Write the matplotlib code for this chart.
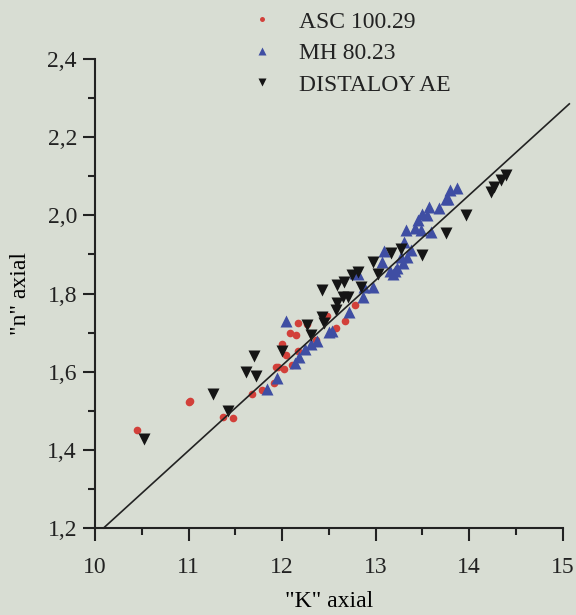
import numpy as np
import matplotlib
matplotlib.use("Agg")
import matplotlib.pyplot as plt
from matplotlib.ticker import MultipleLocator, FuncFormatter

# ---------------- DATA ---------------- #
asc_k = [10.45, 11.00, 11.02, 11.37, 11.47, 11.68, 11.79, 11.91, 11.93, 11.96,
         12.00, 12.02, 12.04, 12.08, 12.11, 12.15, 12.17, 12.17, 12.27, 12.36,
         12.48, 12.58, 12.67, 12.78]
asc_n = [1.452, 1.522, 1.524, 1.485, 1.482, 1.542, 1.553, 1.572, 1.612, 1.613,
         1.672, 1.608, 1.643, 1.700, 1.618, 1.694, 1.725, 1.653, 1.722, 1.680,
         1.742, 1.713, 1.730, 1.770]

mh_k = [11.84, 11.95, 12.04, 12.14, 12.18, 12.24, 12.31, 12.37, 12.50, 12.53,
        12.72, 12.78, 12.81, 12.86, 12.88, 12.97, 13.07, 13.09, 13.15, 13.18,
        13.21, 13.23, 13.27, 13.29, 13.30, 13.32, 13.34, 13.38, 13.42, 13.45,
        13.48, 13.50, 13.55, 13.57, 13.59, 13.68, 13.75, 13.77, 13.79, 13.87]
mh_n = [1.556, 1.583, 1.730, 1.623, 1.638, 1.658, 1.672, 1.678, 1.702, 1.703,
        1.753, 1.853, 1.851, 1.790, 1.817, 1.817, 1.881, 1.909, 1.858, 1.851,
        1.858, 1.864, 1.893, 1.877, 1.932, 1.962, 1.894, 1.911, 1.968, 1.988,
        1.962, 2.003, 2.000, 2.022, 1.958, 2.018, 2.043, 2.043, 2.064, 2.069]

dist_k = [10.52, 11.26, 11.42, 11.61, 11.70, 11.72, 12.00, 12.27, 12.31, 12.43,
          12.43, 12.45, 12.58, 12.59, 12.59, 12.65, 12.66, 12.70, 12.75, 12.81,
          12.84, 12.97, 13.02, 13.16, 13.27, 13.50, 13.75, 13.97, 14.23, 14.27,
          14.34, 14.39]
dist_n = [1.427, 1.543, 1.500, 1.600, 1.640, 1.590, 1.653, 1.719, 1.694, 1.809,
          1.740, 1.724, 1.758, 1.821, 1.775, 1.790, 1.830, 1.790, 1.847, 1.855,
          1.817, 1.881, 1.851, 1.903, 1.915, 1.898, 1.954, 2.000, 2.060, 2.073,
          2.090, 2.103]

# straight fit line n = a*K + b
fit_slope = 0.218
fit_intercept = -1.0
fit_k_range = [10.092, 15.07]

labels = ["ASC 100.29", "MH 80.23", "DISTALOY AE"]

# ---------------- STYLE ---------------- #
BG = "#d8ddd3"
INK = "#222222"
FS = 17
plt.rcParams["font.family"] = ["Liberation Serif", "DejaVu Serif"]
plt.rcParams["text.color"] = INK

fig = plt.figure(figsize=(5.76, 6.15), dpi=100, facecolor=BG)
ax = fig.add_axes([0.165, 0.1415, 0.812, 0.7625], facecolor=BG)

# ---------------- PLOT ---------------- #
fit_k = np.array(fit_k_range)
ax.plot(fit_k, fit_slope * fit_k + fit_intercept, color=INK, lw=1.2,
        clip_on=False, zorder=3)

ax.plot(asc_k, asc_n, "o", color="#d2403a", ms=5.5, mec="none",
        label=labels[0], zorder=2)
ax.plot(mh_k, mh_n, "^", color="#3f4ea3", ms=8, mec="none",
        label=labels[1], zorder=2)
ax.plot(dist_k, dist_n, "v", color="#151515", ms=8, mec="none",
        label=labels[2], zorder=2)

ax.set_xlim(10, 15)
ax.set_ylim(1.2, 2.4)
ax.xaxis.set_major_locator(MultipleLocator(1))
ax.xaxis.set_minor_locator(MultipleLocator(0.5))
ax.yaxis.set_major_locator(MultipleLocator(0.2))
ax.yaxis.set_minor_locator(MultipleLocator(0.1))
ax.yaxis.set_major_formatter(FuncFormatter(lambda v, p: f"{v:.1f}".replace(".", ",")))
ax.xaxis.set_major_formatter(FuncFormatter(lambda v, p: f"{v:.0f}"))

for side in ["top", "right"]:
    ax.spines[side].set_visible(False)
for side in ["left", "bottom"]:
    ax.spines[side].set_linewidth(1.5)
    ax.spines[side].set_color(INK)

ax.tick_params(which="major", direction="out", length=9, width=1.5,
               colors=INK, labelsize=FS, pad=4)
ax.tick_params(which="minor", direction="out", length=5, width=1.5, colors=INK)
ax.tick_params(axis="x", which="major", pad=12)

ax.set_xlabel('"K" axial', fontsize=FS, labelpad=9)
ax.set_ylabel('"n" axial', fontsize=FS, labelpad=12)

leg = ax.legend(loc="upper left", bbox_to_anchor=(0.41, 1.005),
                bbox_transform=fig.transFigure, frameon=False, fontsize=FS,
                markerscale=0.65, handlelength=1.0, handletextpad=1.05,
                labelspacing=0.42, borderpad=0.1)

fig.savefig("out.png", dpi=100, facecolor=BG)
